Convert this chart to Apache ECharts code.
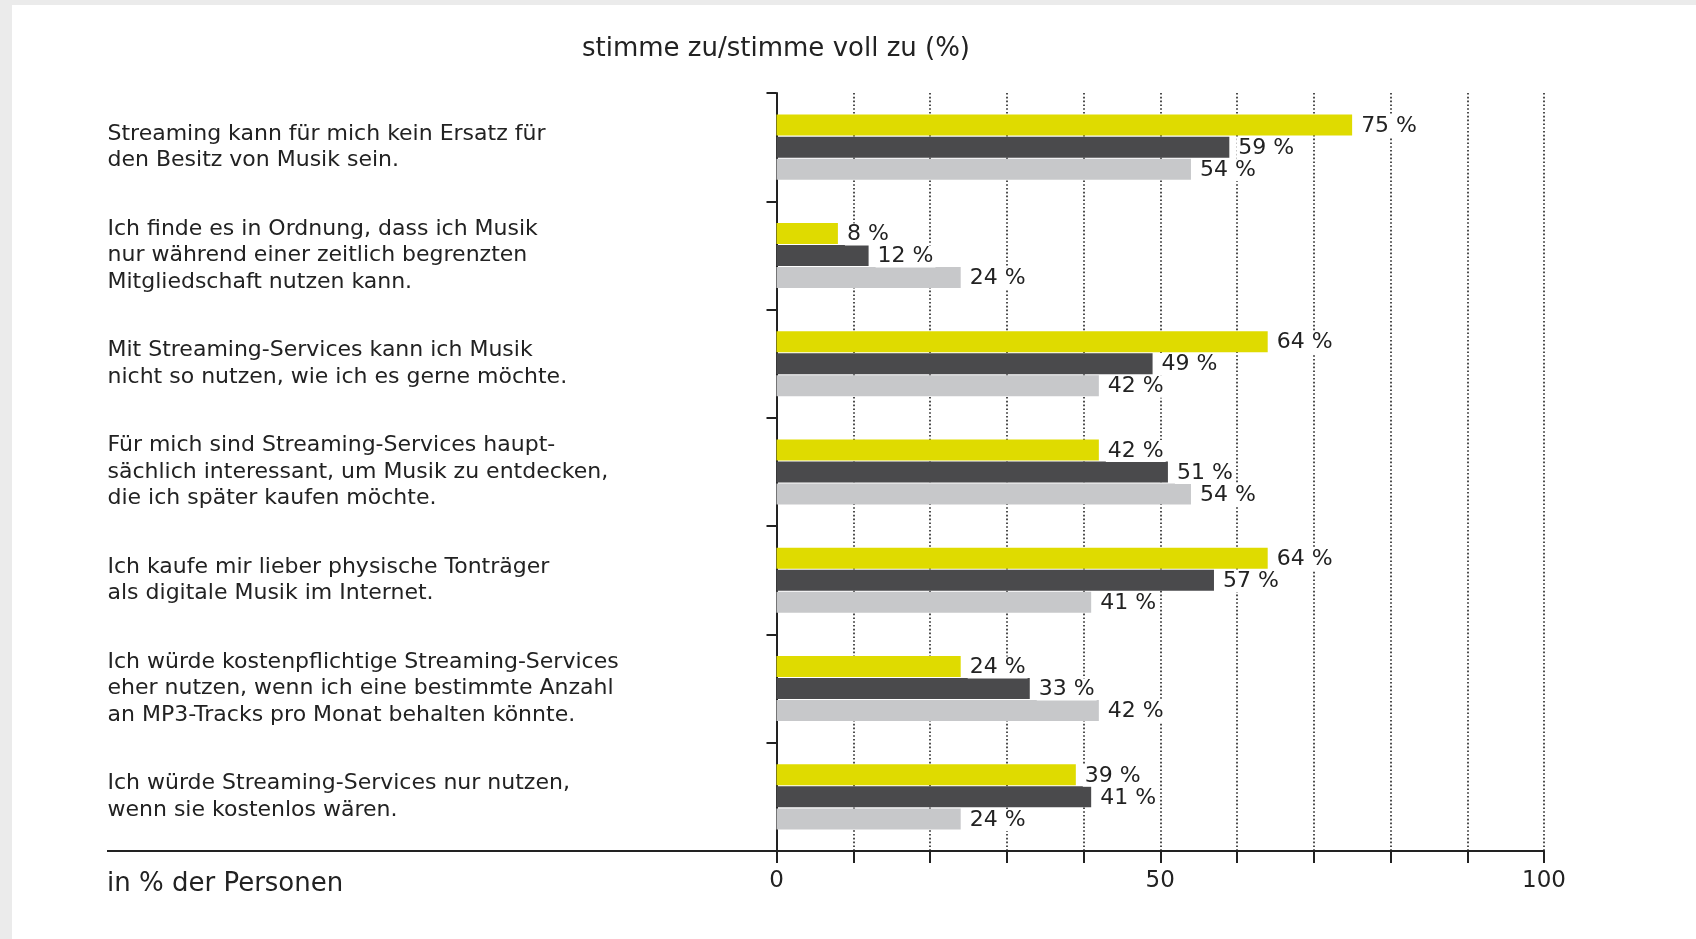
<!DOCTYPE html>
<html>
<head>
<meta charset="utf-8">
<script src="https://cdn.jsdelivr.net/npm/echarts@6/dist/echarts.min.js"></script>
<style>
  html, body { margin: 0; padding: 0; background: #ebebeb; width: 1696px; height: 939px; overflow: hidden; }
  #frame { position: absolute; left: 12px; top: 5px; right: 0; bottom: 0; background: #ffffff; }
  #chart { position: absolute; left: 0; top: 0; width: 1696px; height: 939px; }
</style>
</head>
<body>
<div id="frame"></div>
<div id="chart"></div>
<script>
const categories = [
  "Streaming kann für mich kein Ersatz für\nden Besitz von Musik sein.",
  "Ich finde es in Ordnung, dass ich Musik\nnur während einer zeitlich begrenzten\nMitgliedschaft nutzen kann.",
  "Mit Streaming-Services kann ich Musik\nnicht so nutzen, wie ich es gerne möchte.",
  "Für mich sind Streaming-Services haupt-\nsächlich interessant, um Musik zu entdecken,\ndie ich später kaufen möchte.",
  "Ich kaufe mir lieber physische Tonträger\nals digitale Musik im Internet.",
  "Ich würde kostenpflichtige Streaming-Services\neher nutzen, wenn ich eine bestimmte Anzahl\nan MP3-Tracks pro Monat behalten könnte.",
  "Ich würde Streaming-Services nur nutzen,\nwenn sie kostenlos wären."
];
const seriesYellow = [75, 8, 64, 42, 64, 24, 39];
const seriesDark   = [59, 12, 49, 51, 57, 33, 41];
const seriesLight  = [54, 24, 42, 54, 41, 42, 24];
const xTickLabels = [0, 50, 100];
const titleText = "stimme zu/stimme voll zu (%)";
const footText = "in % der Personen";

const FONT = "DejaVu Sans";
const TXT = "#222222";

const chart = echarts.init(document.getElementById('chart'), null, { renderer: 'canvas' });

function barSeries(name, data, color) {
  return {
    name: name,
    type: 'bar',
    data: data,
    barWidth: 21,
    barGap: '5%',
    itemStyle: { color: color },
    label: {
      show: true,
      position: 'right',
      distance: 7,
      offset: [0, 1],
      formatter: p => p.value + ' %',
      fontFamily: FONT,
      fontSize: 22,
      color: TXT,
      backgroundColor: '#ffffff',
      padding: [0, 2, 0, 2]
    },
    emphasis: { disabled: true },
    animation: false
  };
}

chart.setOption({
  backgroundColor: 'transparent',
  animation: false,
  grid: { left: 776.5, right: 152, top: 93, bottom: 88, containLabel: false },
  xAxis: {
    type: 'value',
    min: 0, max: 100, interval: 10,
    axisLine: { show: true, lineStyle: { color: TXT, width: 2 } },
    axisTick: { show: true, length: 12, lineStyle: { color: TXT, width: 2 } },
    axisLabel: {
      show: true,
      margin: 19,
      fontFamily: FONT,
      fontSize: 23,
      color: TXT,
      formatter: v => (xTickLabels.indexOf(v) >= 0 ? String(v) : '')
    },
    splitLine: { show: true, lineStyle: { color: '#222222', width: 1.6, type: [1.6, 2.2] } }
  },
  yAxis: {
    type: 'category',
    data: categories,
    inverse: true,
    axisLine: { show: true, lineStyle: { color: TXT, width: 2 } },
    axisTick: { show: true, length: 10, lineStyle: { color: TXT, width: 2 } },
    axisLabel: {
      show: true,
      align: 'left',
      margin: 669,
      fontFamily: FONT,
      fontSize: 22,
      lineHeight: 26.5,
      color: TXT
    },
    splitLine: { show: false }
  },
  graphic: [
    {
      type: 'line',
      shape: { x1: 107, y1: 851, x2: 777, y2: 851 },
      style: { stroke: TXT, lineWidth: 2 },
      silent: true
    },
    {
      type: 'text',
      x: 776, y: 49,
      style: { text: titleText, fontFamily: FONT, fontSize: 26, fill: TXT, align: 'center', verticalAlign: 'middle' },
      silent: true
    },
    {
      type: 'text',
      x: 107, y: 884,
      style: { text: footText, fontFamily: FONT, fontSize: 26, fill: TXT, align: 'left', verticalAlign: 'middle' },
      silent: true
    }
  ],
  series: [
    barSeries('stimme zu (1)', seriesYellow, '#dfdb00'),
    barSeries('stimme zu (2)', seriesDark, '#4a4a4c'),
    barSeries('stimme zu (3)', seriesLight, '#c7c8ca')
  ]
});
</script>
</body>
</html>
